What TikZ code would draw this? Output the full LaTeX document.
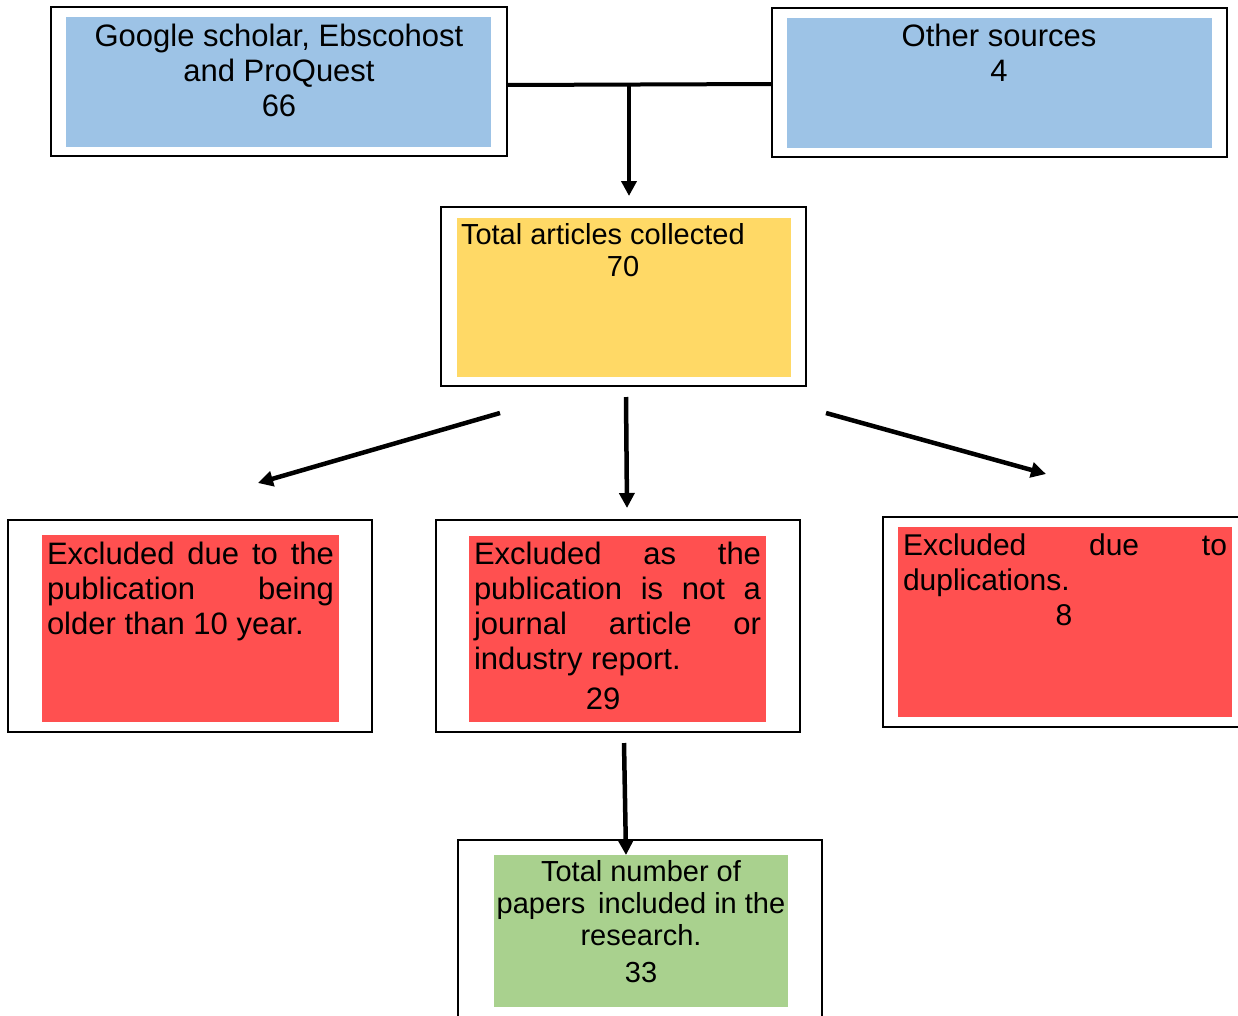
\documentclass[tikz,border=0pt]{standalone}
\usepackage{fontspec}
\setmainfont{Liberation Sans}
\usetikzlibrary{arrows.meta}
\definecolor{cblue}{HTML}{9DC3E6}
\definecolor{cyellow}{HTML}{FFD966}
\definecolor{cred}{HTML}{FF5050}
\definecolor{cgreen}{HTML}{A9D18E}
\tikzset{
  outerbox/.style={draw=black, line width=2pt, fill=white, inner sep=0pt, outer sep=0pt},
  fillbox/.style={fill=#1, draw=none, inner sep=0pt, outer sep=0pt},
  txt/.style={inner sep=0pt, outer sep=0pt, font=\fontsize{31}{35}\selectfont},
  txtsmall/.style={inner sep=0pt, outer sep=0pt, font=\fontsize{29}{32}\selectfont},
  conn/.style={line width=4pt},
  arr/.style={line width=4.5pt, -{Triangle[length=15pt,width=15pt]}}
}
\begin{document}
\begin{tikzpicture}[x=1pt,y=-1pt]
\useasboundingbox (0,0) rectangle (1238,1015);
\clip (0,0) rectangle (1238,1015);
% top left
\node[outerbox, minimum width=456pt, minimum height=149pt] (gout) at (279,81.5) {};
\node[fillbox=cblue, minimum width=425pt, minimum height=130pt] (gin) at (278.5,82) {};
\node[txt, align=center, anchor=north] (gtxt) at (279,24) {Google scholar, Ebscohost\\and ProQuest\\66};
% top right
\node[outerbox, minimum width=455pt, minimum height=149pt] (oout) at (999.5,82.5) {};
\node[fillbox=cblue, minimum width=425pt, minimum height=130pt] (oin) at (999.5,83) {};
\node[txt, align=center, anchor=north] (otxt) at (999,24) {Other sources\\4};
% yellow
\node[outerbox, minimum width=365pt, minimum height=179pt] (yout) at (623.5,296.5) {};
\node[fillbox=cyellow, minimum width=334pt, minimum height=159pt] (yin) at (624,297.5) {};
\node[txtsmall, align=left, anchor=north west] (ytxt) at (461,223.5) {Total articles collected\\\makebox[324pt]{70}};
% red left
\node[outerbox, minimum width=364pt, minimum height=212pt] (lout) at (190,626) {};
\node[fillbox=cred, minimum width=297pt, minimum height=187pt] (lin) at (190.5,628.5) {};
\node[txt, align=left, anchor=north west] (ltxt) at (47,542) {\makebox[287pt][s]{Excluded due to the}\\\makebox[287pt][s]{publication being}\\older than 10 year.};
% red middle
\node[outerbox, minimum width=364pt, minimum height=212pt] (mout) at (618,626) {};
\node[fillbox=cred, minimum width=297pt, minimum height=186pt] (min) at (617.5,629) {};
\node[txt, align=left, anchor=north west] (mtxt) at (474,542) {\makebox[287pt][s]{Excluded as the}\\\makebox[287pt][s]{publication is not a}\\\makebox[287pt][s]{journal article or}\\industry report.\\[5pt]\makebox[258pt]{29}};
% red right
\node[outerbox, minimum width=380pt, minimum height=210pt] (rout) at (1073,622) {};
\node[fillbox=cred, minimum width=334pt, minimum height=190pt] (rin) at (1065,622) {};
\node[txt, font=\fontsize{30}{35}\selectfont, align=left, anchor=north west] (rtxt) at (903,534) {\makebox[324pt][s]{Excluded due to}\\duplications.\\\makebox[322pt]{8}};
% green
\node[outerbox, minimum width=364pt, minimum height=200pt] (bout) at (640,940) {};
\node[fillbox=cgreen, minimum width=294pt, minimum height=152pt] (bin) at (641,931) {};
\node[txtsmall, align=center, anchor=north] (btxt) at (641,860.5) {Total number of\\papers\, included in the\\research.\\[5pt]33};
% connectors
\coordinate (jl) at (507,85);
\coordinate (jr) at (772,84);
\coordinate (jm) at (629,84.5);
\coordinate (jt) at (629,196);
\draw[conn] (jl) -- (jr);
\draw[arr] (jm) -- (jt);
\coordinate (a1s) at (500,413);
\coordinate (a1e) at (258,483);
\coordinate (a2s) at (626,397);
\coordinate (a2e) at (627,508);
\coordinate (a3s) at (826,413);
\coordinate (a3e) at (1046,474);
\draw[arr] (a1s) -- (a1e);
\draw[arr] (a2s) -- (a2e);
\draw[arr] (a3s) -- (a3e);
\coordinate (a4s) at (624,743);
\coordinate (a4e) at (626,855);
\draw[arr] (a4s) -- (a4e);
\end{tikzpicture}
\end{document}
